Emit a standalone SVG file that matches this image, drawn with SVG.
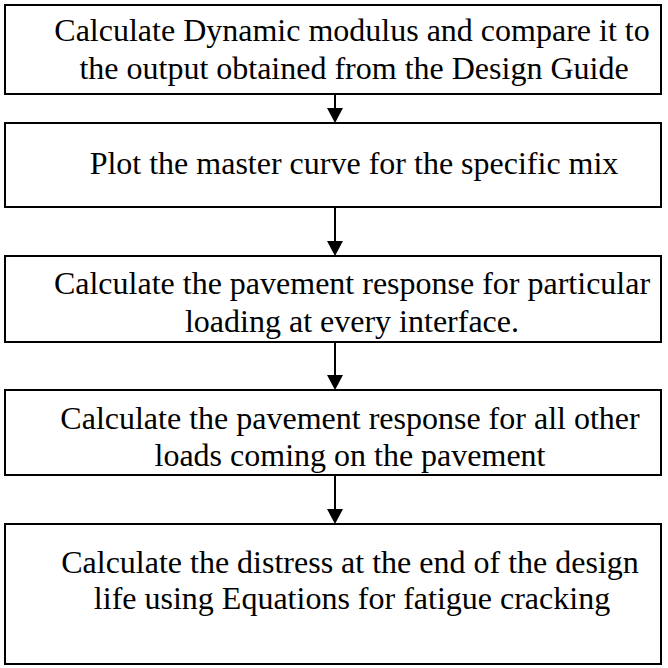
<svg xmlns="http://www.w3.org/2000/svg" width="668" height="668" viewBox="0 0 668 668">
<style>
.box{fill:#fff;stroke:#000;stroke-width:2}
.t{font-family:"Liberation Serif","Times New Roman",serif;font-size:32px;fill:#000;text-anchor:middle}
.c{stroke:#000;stroke-width:2;fill:none}
</style>
<rect width="668" height="668" fill="#fff"/>
<g id="connectors">
<path class="c" d="M335,94 V108"/><path d="M327,108 L343,108 L335,123 Z"/>
<path class="c" d="M335,207 V241"/><path d="M327,241 L343,241 L335,256 Z"/>
<path class="c" d="M335,342 V375"/><path d="M327,375 L343,375 L335,390 Z"/>
<path class="c" d="M335,475 V509"/><path d="M327,509 L343,509 L335,524 Z"/>
</g>
<g id="n1">
<rect class="box" x="5" y="5" width="656" height="89"/>
<text class="t" x="352" y="41">Calculate Dynamic modulus and compare it to</text>
<text class="t" x="354" y="79">the output obtained from the Design Guide</text>
</g>
<g id="n2">
<rect class="box" x="5" y="123" width="656" height="84"/>
<text class="t" x="354" y="174">Plot the master curve for the specific mix</text>
</g>
<g id="n3">
<rect class="box" x="5" y="256" width="656" height="86"/>
<text class="t" x="352" y="294">Calculate the pavement response for particular</text>
<text class="t" x="352" y="332">loading at every interface.</text>
</g>
<g id="n4">
<rect class="box" x="5" y="390" width="656" height="85"/>
<text class="t" x="350" y="429">Calculate the pavement response for all other</text>
<text class="t" x="350" y="466">loads coming on the pavement</text>
</g>
<g id="n5">
<rect class="box" x="5" y="524" width="656" height="140"/>
<text class="t" x="350" y="573">Calculate the distress at the end of the design</text>
<text class="t" x="352" y="609">life using Equations for fatigue cracking</text>
</g>
</svg>
